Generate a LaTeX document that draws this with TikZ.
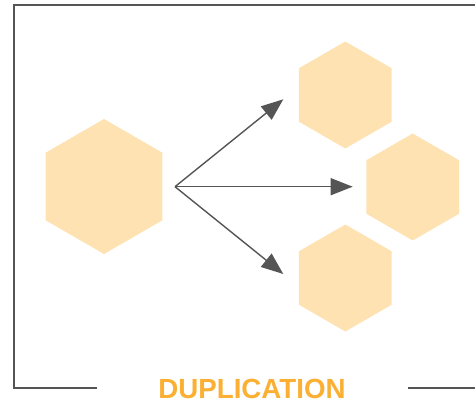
\documentclass[tikz,border=0pt]{standalone}
\usepackage{fontspec}
\setmainfont{Liberation Sans}
\usetikzlibrary{shapes.geometric,arrows.meta}
\definecolor{hexfill}{RGB}{254,226,178}
\definecolor{linegray}{RGB}{85,85,85}
\definecolor{titleorange}{RGB}{251,176,52}
\tikzset{
  hex/.style={regular polygon,regular polygon sides=6,shape border rotate=30,
    fill=hexfill,draw=none,inner sep=0pt,outer sep=0pt,minimum size=#1},
  arr/.style={draw=linegray,line width=1.4pt,-{Triangle[length=22pt,width=17pt]}},
  frame/.style={draw=linegray,line width=1.5pt},
}
\begin{document}
\begin{tikzpicture}[x=1pt,y=-1pt]
\useasboundingbox (0,0) rectangle (475,404);
\node[hex=135pt] (big) at (104,186.5) {};
\node[hex=107pt] (h1) at (345.3,95) {};
\node[hex=107pt] (h2) at (412.7,187) {};
\node[hex=107pt] (h3) at (345.3,278) {};
\coordinate (o) at (175,186.7);
\coordinate (t1) at (283.3,99.3);
\coordinate (t2) at (352.7,186.7);
\coordinate (t3) at (283.3,274);
\draw[arr] (o) -- (t1);
\draw[arr] (o) -- (t2);
\draw[arr] (o) -- (t3);
\coordinate (f1) at (96.7,388);
\coordinate (f2) at (14,388);
\coordinate (f3) at (14,5);
\coordinate (f4) at (475,5);
\coordinate (f5) at (408,388);
\coordinate (f6) at (475,388);
\draw[frame] (f1) -- (f2) -- (f3) -- (f4);
\draw[frame] (f5) -- (f6);
\node[anchor=base,text=titleorange,font=\fontsize{27.7}{30}\selectfont\bfseries,inner sep=0pt] (title) at (252,398.3) {DUPLICATION};
\end{tikzpicture}
\end{document}
